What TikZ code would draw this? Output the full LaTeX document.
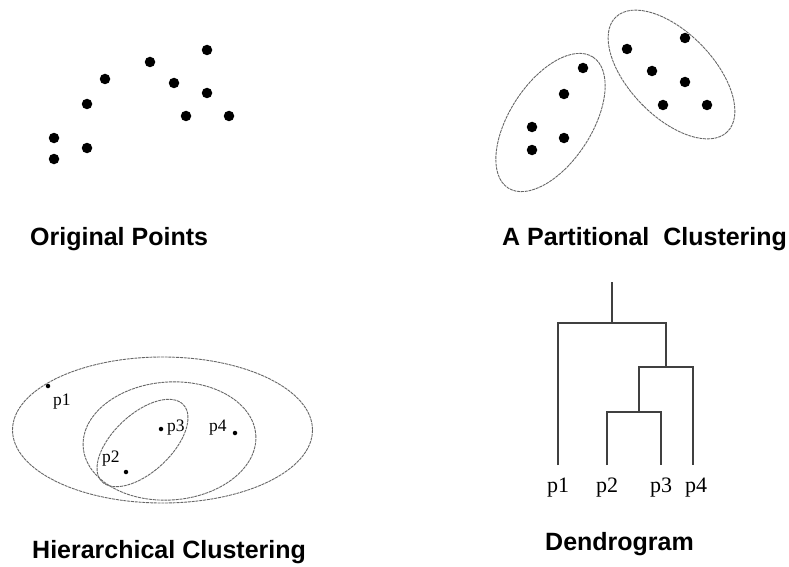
\documentclass[tikz,border=0pt]{standalone}
\usepackage{fontspec}
\setmainfont{Liberation Serif}
\newfontfamily\headfont{Liberation Sans}
\usetikzlibrary{positioning}

\begin{document}
\begin{tikzpicture}[
    x=1pt, y=-1pt,
    bigdot/.style={circle, fill=black, inner sep=0pt, minimum size=10.5pt},
    smalldot/.style={circle, fill=black, inner sep=0pt, minimum size=4.5pt},
    clusterline/.style={draw=black!60, line width=0.9pt, dash pattern=on 3pt off 0.8pt},
    treeline/.style={draw=black!75, line width=1.2pt},
    caption/.style={anchor=base west, inner sep=0pt, font=\headfont\bfseries\fontsize{25}{30}\selectfont},
    ptlabel/.style={anchor=base west, inner sep=0pt, font=\fontsize{17.5}{20}\selectfont},
    leaflabel/.style={inner sep=0pt, font=\fontsize{22}{26}\selectfont}
  ]
    \useasboundingbox (0,0) rectangle (789,567);

    % original points
    \node[bigdot] (o1) at (54,138) {};
    \node[bigdot] (o2) at (54,159) {};
    \node[bigdot] (o3) at (87,148) {};
    \node[bigdot] (o4) at (87,104) {};
    \node[bigdot] (o5) at (105,79) {};
    \node[bigdot] (o6) at (150,62) {};
    \node[bigdot] (o7) at (174,83) {};
    \node[bigdot] (o8) at (207,50) {};
    \node[bigdot] (o9) at (207,93) {};
    \node[bigdot] (o10) at (186,116) {};
    \node[bigdot] (o11) at (229,116) {};
    \node[caption] (origcap) at (30,245) {Original Points};

    % partitional clustering
    \node[bigdot] (a1) at (532,127) {};
    \node[bigdot] (a2) at (532,150) {};
    \node[bigdot] (a3) at (564,138) {};
    \node[bigdot] (a4) at (564,94) {};
    \node[bigdot] (a5) at (583,68) {};
    \node[bigdot] (b1) at (627,49) {};
    \node[bigdot] (b2) at (652,71) {};
    \node[bigdot] (b3) at (685,38) {};
    \node[bigdot] (b4) at (685,82) {};
    \node[bigdot] (b5) at (663,105) {};
    \node[bigdot] (b6) at (707,105) {};
    \draw[clusterline, rotate around={57:(550.5,122.5)}] (550.5,122.5) ellipse [x radius=78, y radius=41];
    \draw[clusterline, rotate around={-45.8:(671.5,74.5)}] (671.5,74.5) ellipse [x radius=80, y radius=42];
    \node[caption] (partcap) at (502,245) {A Partitional\ \ Clustering};

    % hierarchical clustering
    \draw[clusterline] (162.5,430) ellipse [x radius=150, y radius=73];
    \draw[clusterline, rotate around={4:(169.5,441)}] (169.5,441) ellipse [x radius=86.5, y radius=59];
    \draw[clusterline, rotate around={43:(142.5,443)}] (142.5,443) ellipse [x radius=56, y radius=29];
    \node[smalldot] (h1) at (48,386) {};
    \node[smalldot] (h2) at (126,472) {};
    \node[smalldot] (h3) at (161,429) {};
    \node[smalldot] (h4) at (235,433) {};
    \node[ptlabel] (h1lab) at (53,405) {p1};
    \node[ptlabel] (h2lab) at (102,462) {p2};
    \node[ptlabel] (h3lab) at (167,431) {p3};
    \node[ptlabel] (h4lab) at (209,431) {p4};
    \node[caption] (hiercap) at (32,558) {Hierarchical Clustering};

    % dendrogram
    \coordinate (top) at (612,282);
    \coordinate (root) at (612,323);
    \coordinate (m234) at (666,367);
    \coordinate (m23) at (639,412);
    \coordinate (l1) at (558,465);
    \coordinate (l2) at (607,465);
    \coordinate (l3) at (661,465);
    \coordinate (l4) at (693,465);
    \node[leaflabel, below=13pt of l1] (d1) {p1};
    \node[leaflabel, below=13pt of l2] (d2) {p2};
    \node[leaflabel, below=13pt of l3] (d3) {p3};
    \node[leaflabel, below=13pt of l4, xshift=3pt] (d4) {p4};
    \draw[treeline] (top) -- (root);
    \draw[treeline] (l1) |- (root) -| (m234);
    \draw[treeline] (m23) |- (m234) -| (l4);
    \draw[treeline] (l2) |- (m23) -| (l3);
    \node[caption] (dendcap) at (545,550) {Dendrogram};
  \end{tikzpicture}
\end{document}
